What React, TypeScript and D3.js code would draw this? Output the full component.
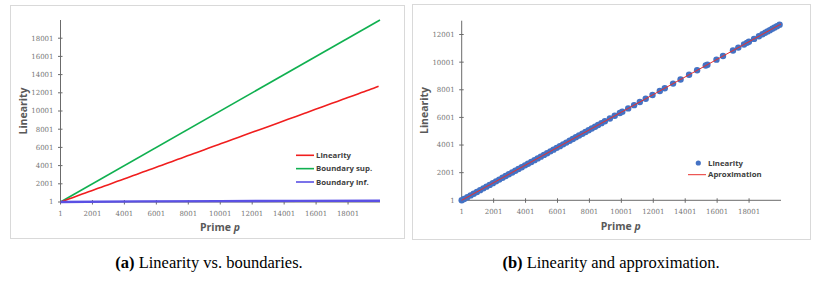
import React from 'react';
import * as d3 from 'd3';

// prime p and measured linearity
const primes = [
  1, 151, 353, 557, 751, 953, 1153, 1361, 1553, 1753, 1951, 2153, 2351, 2557, 2753, 2953,
  3163, 3359, 3557, 3761, 3967, 4153, 4357, 4561, 4759, 4957, 5153, 5351, 5557, 5749, 5953,
  6151, 6353, 6551, 6761, 6959, 7151, 7351, 7559, 7753, 7951, 8147, 8353, 8543, 8753, 8969,
  9283, 9587, 9907, 10061, 10429, 10799, 11159, 11527, 11953, 12409, 12721, 13241, 13709,
  14243, 14747, 15287, 15391, 15959, 16369, 16993, 17327, 17683, 17863, 17989, 18313, 18617,
  18839, 19001, 19157, 19301, 19457, 19603, 19751, 19913,
];
const linearity = [
  1, 96, 224, 355, 478, 607, 735, 867, 990, 1117, 1244, 1372, 1499, 1630, 1755, 1882,
  2017, 2142, 2268, 2398, 2529, 2648, 2778, 2908, 3034, 3161, 3286, 3412, 3543, 3666, 3796,
  3922, 4051, 4177, 4311, 4437, 4560, 4687, 4820, 4944, 5070, 5195, 5326, 5447, 5584, 5722,
  5923, 6117, 6321, 6419, 6654, 6890, 7120, 7354, 7626, 7917, 8116, 8448, 8746,
  9087, 9409, 9753, 9820, 10182, 10443, 10842, 11055, 11282, 11397, 11477, 11684, 11880,
  12022, 12125, 12225, 12317, 12417, 12510, 12605, 12708,
];

const boundSupP = [1, 20001];
const boundSup = [1, 20001];
const boundInfP = [1, 5001, 10001, 15001, 20001];
const boundInf = [1, 71, 100, 122, 141];

const approxP = [1, 10001, 20001];
const approx = [1, 6380, 12760];

const xTicks = [1, 2001, 4001, 6001, 8001, 10001, 12001, 14001, 16001, 18001];
const yTicksA = [1, 2001, 4001, 6001, 8001, 10001, 12001, 14001, 16001, 18001];
const yTicksB = [1, 2001, 4001, 6001, 8001, 10001, 12001];

const legendA = [
  { label: 'Linearity', color: '#f01e1e' },
  { label: 'Boundary sup.', color: '#10b050' },
  { label: 'Boundary inf.', color: '#5a50e4' },
];

const tickFont = { fontFamily: '"DejaVu Serif", serif', fontSize: 7, fill: '#767676' };
const titleFont = { fontFamily: '"Open Sans", sans-serif', fontSize: 10.5, fontWeight: 700, fill: '#595959' };
const legendFont = { fontFamily: '"Open Sans", sans-serif', fontSize: 7.8, fontWeight: 700, fill: '#404040' };
const capFont = { fontFamily: '"Liberation Serif", serif', fontSize: 16.5, fill: '#000' };

function Axes({ x, y, yTicks, titleX, titleY, xLabelY }) {
  const [x0, x1] = x.range();
  const [yb] = y.range();
  const yTop = y.range()[1];
  return (
    <g>
      <line x1={x0} x2={x0} y1={yb} y2={yTop} stroke="#6b6b6b" />
      <line x1={x0} x2={x1} y1={yb} y2={yb} stroke="#6b6b6b" />
      {yTicks.map(t => (
        <g key={'y' + t}>
          <line x1={x0 - 2.5} x2={x0 + 2} y1={y(t)} y2={y(t)} stroke="#6b6b6b" />
          <text x={x0 - 7} y={y(t)} dy="0.35em" textAnchor="end" style={tickFont}>{t}</text>
        </g>
      ))}
      {xTicks.map(t => (
        <g key={'x' + t}>
          <line x1={x(t)} x2={x(t)} y1={yb - 2} y2={yb + 2.5} stroke="#6b6b6b" />
          <text x={x(t)} y={yb + 14} textAnchor="middle" style={tickFont}>{t}</text>
        </g>
      ))}
      <text
        transform={`translate(${titleX},${(yb + yTop) / 2}) rotate(-90)`}
        textAnchor="middle"
        dominantBaseline="central"
        style={titleFont}
      >
        Linearity
      </text>
      <text x={titleY} y={xLabelY} textAnchor="middle" style={titleFont}>
        Prime <tspan fontStyle="italic">p</tspan>
      </text>
    </g>
  );
}

export default function App() {
  // panel (a)
  const xa = d3.scaleLinear().domain([1, 20001]).range([60.5, 380]);
  const ya = d3.scaleLinear().domain([1, 20001]).range([202, 20]);
  const lineA = (xs, ys) =>
    d3.line().x(d => xa(d[0])).y(d => ya(d[1]))(xs.map((p, i) => [p, ys[i]]));

  // panel (b)
  const xb = d3.scaleLinear().domain([1, 20001]).range([461.7, 781]);
  const yb = d3.scaleLinear().domain([1, 13001]).range([200.3, 20.7]);
  const lineB = (xs, ys) =>
    d3.line().x(d => xb(d[0])).y(d => yb(d[1]))(xs.map((p, i) => [p, ys[i]]));

  return (
    <svg
      width={820}
      height={284}
      style={{ position: 'absolute', left: 0, top: 0, background: '#fff' }}
    >
      {/* (a) */}
      <rect x={10.5} y={5.5} width={394} height={233} fill="#fff" stroke="#d9d9d9" />
      <Axes x={xa} y={ya} yTicks={yTicksA} titleX={22.8} titleY={220} xLabelY={230.5} />
      <path d={lineA(boundSupP, boundSup)} fill="none" stroke={legendA[1].color} strokeWidth={1.6} />
      <path d={lineA(primes, linearity)} fill="none" stroke={legendA[0].color} strokeWidth={1.6} />
      <path d={lineA(boundInfP, boundInf)} fill="none" stroke={legendA[2].color} strokeWidth={2.4} />
      {legendA.map((d, i) => (
        <g key={d.label} transform={`translate(296,${155.3 + i * 13.35})`}>
          <line x1={0} x2={18} stroke={d.color} strokeWidth={1.6} />
          <text x={20} dy="0.35em" style={legendFont}>{d.label}</text>
        </g>
      ))}

      {/* (b) */}
      <rect x={412.5} y={4.5} width={398} height={235} fill="#fff" stroke="#d9d9d9" />
      <Axes x={xb} y={yb} yTicks={yTicksB} titleX={423.8} titleY={620.7} xLabelY={229.5} />
      {primes.map((p, i) => (
        <circle key={p} cx={xb(p)} cy={yb(linearity[i])} r={3.2} fill="#4472c4" />
      ))}
      <path d={lineB(approxP, approx)} fill="none" stroke="#e8302e" strokeWidth={1} />
      <circle cx={698.3} cy={163} r={2.6} fill="#4472c4" />
      <text x={708} y={163} dy="0.35em" style={legendFont}>Linearity</text>
      <line x1={688} x2={706} y1={174.7} y2={174.7} stroke="#e8302e" strokeWidth={1} />
      <text x={708} y={174.7} dy="0.35em" style={legendFont}>Aproximation</text>

      {/* captions */}
      <text x={209} y={268} textAnchor="middle" style={capFont}>
        <tspan fontWeight="bold">(a)</tspan> Linearity vs. boundaries.
      </text>
      <text x={611} y={268} textAnchor="middle" style={capFont}>
        <tspan fontWeight="bold">(b)</tspan> Linearity and approximation.
      </text>
    </svg>
  );
}
